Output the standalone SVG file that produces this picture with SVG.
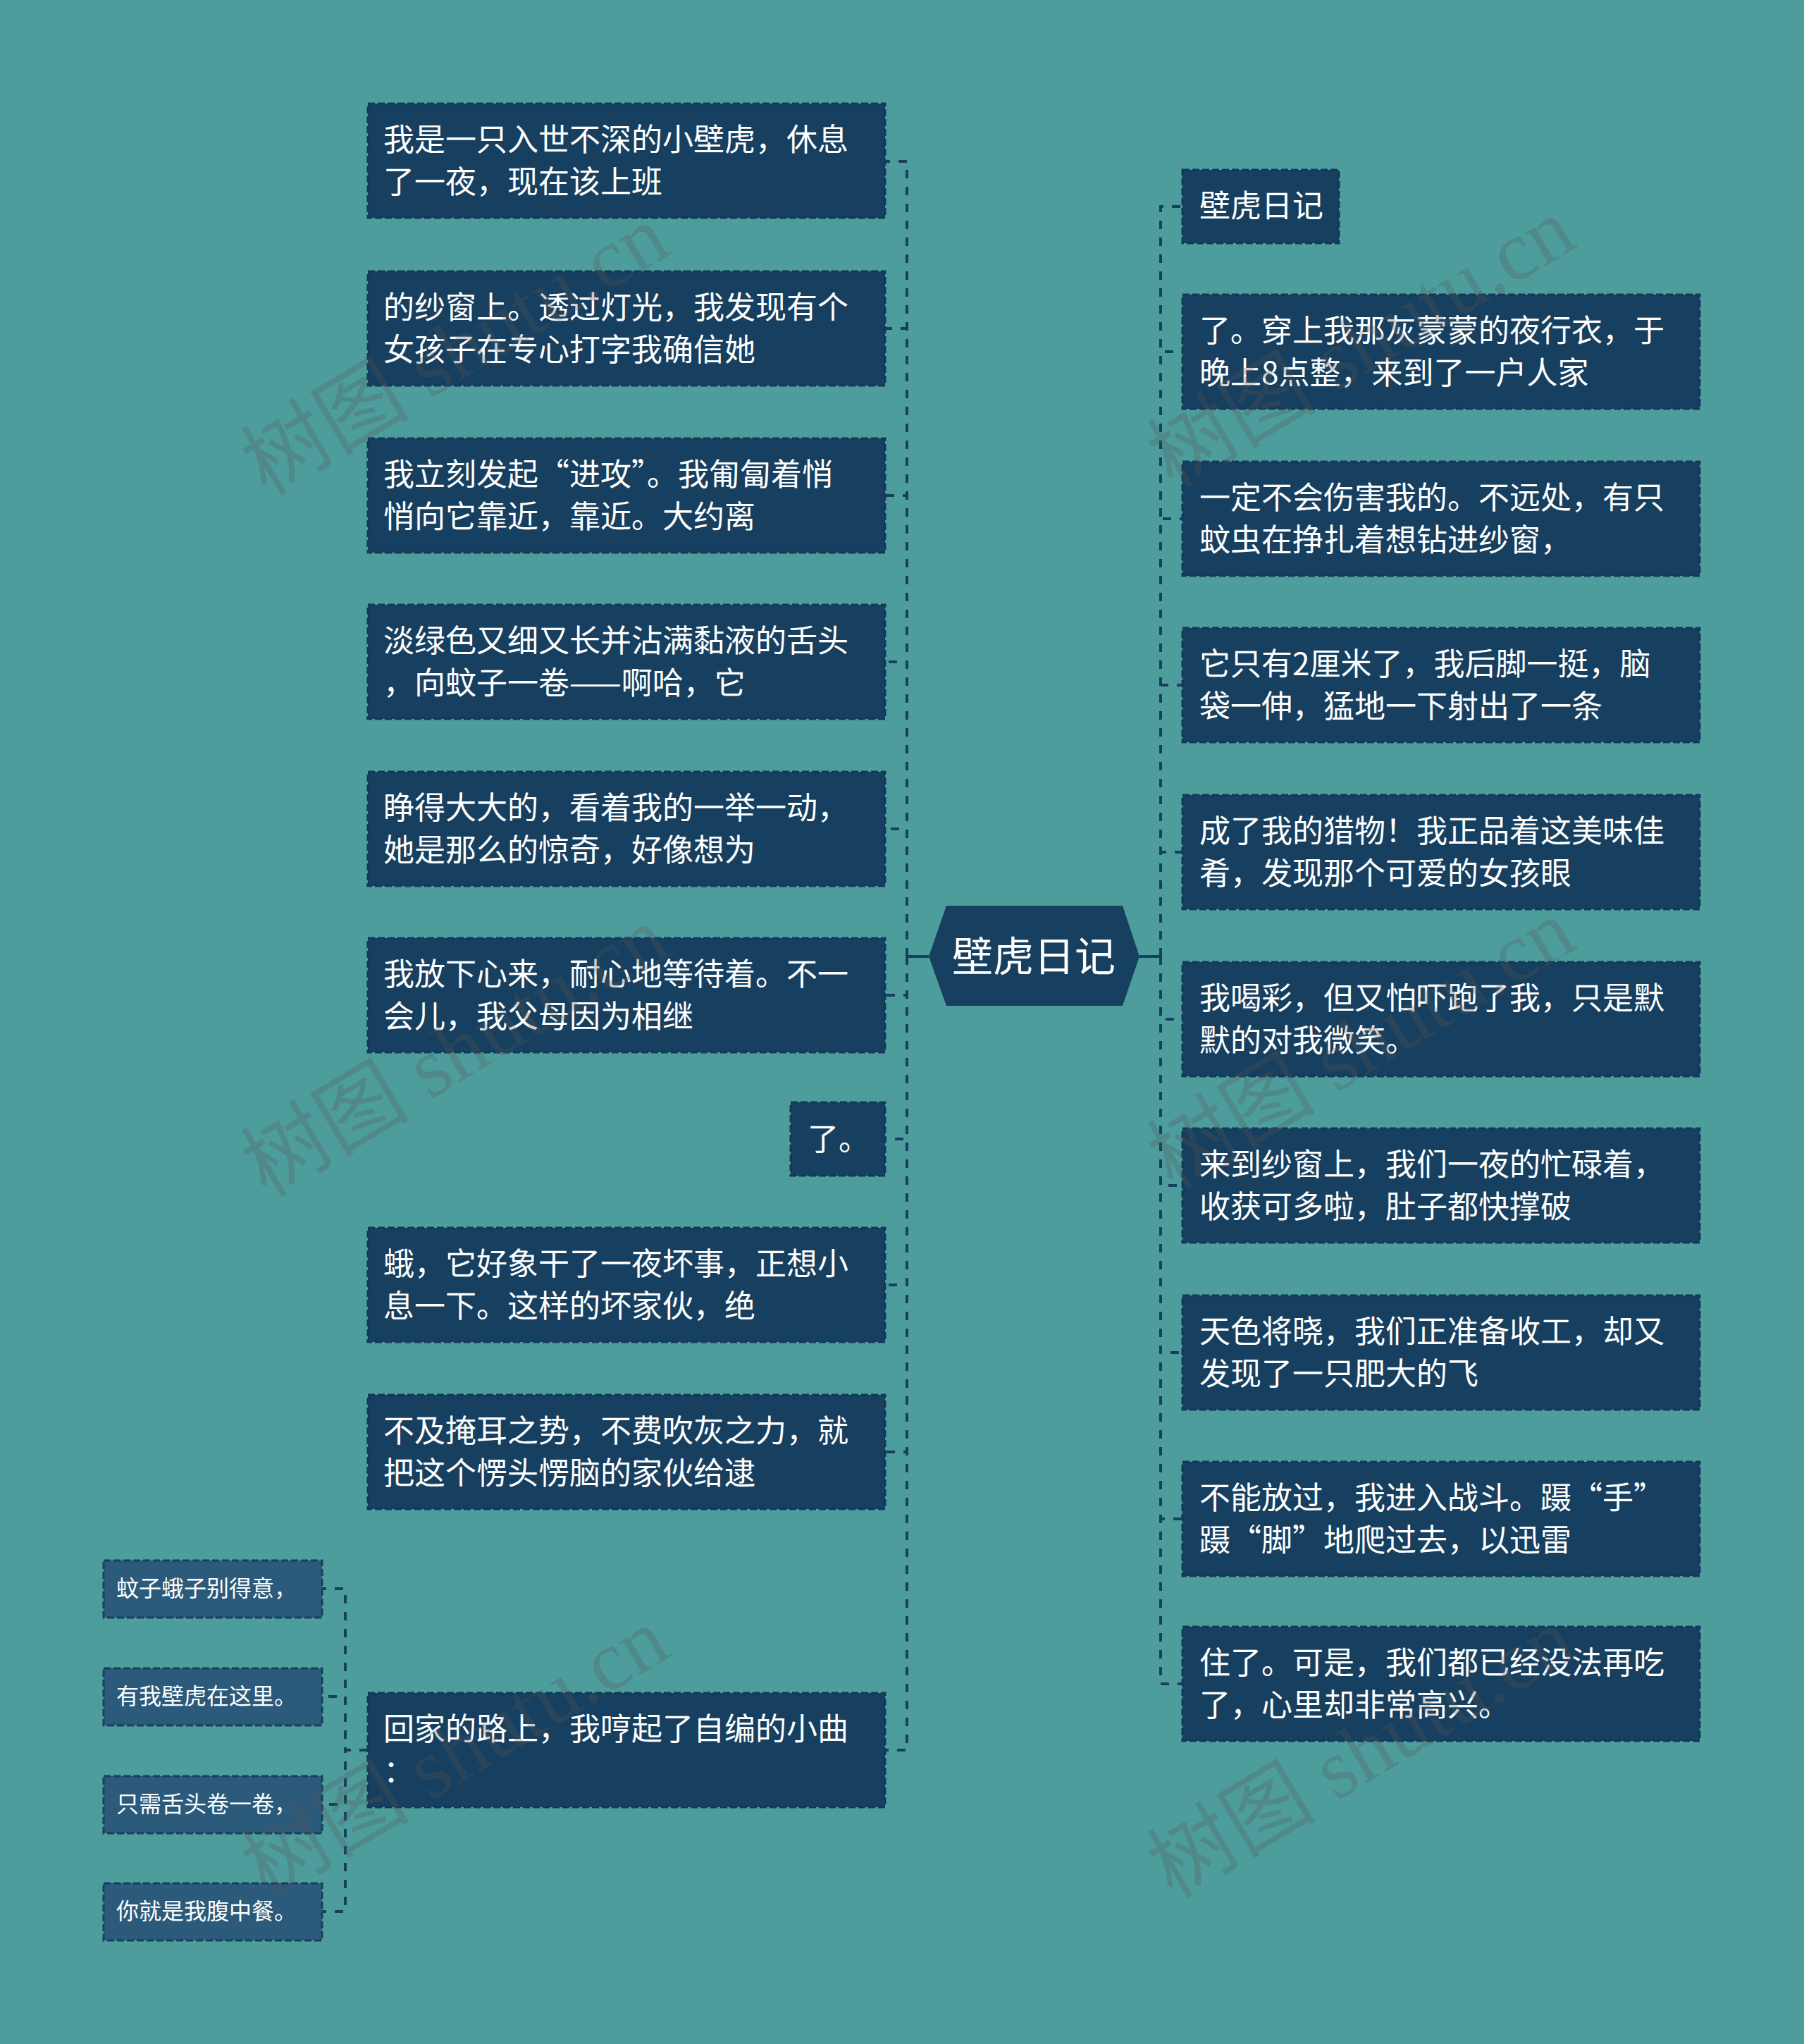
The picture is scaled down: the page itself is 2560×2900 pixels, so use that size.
<svg xmlns="http://www.w3.org/2000/svg" width="2560" height="2900" viewBox="0 0 2560 2900">
<defs>
<style>
.bg{fill:#4E9D9D}
.box{fill:#173F5F;stroke:#12385A;stroke-width:3;stroke-dasharray:10 4}
.leaf{fill:#2C5A7B;stroke:#173F5F;stroke-width:3;stroke-dasharray:10 4}
.t{font-family:"Noto Sans CJK SC","Noto Sans",sans-serif;font-size:44px;fill:#FFFFFF}
.lt{font-family:"Noto Sans CJK SC","Noto Sans",sans-serif;font-size:32px;fill:#FFFFFF}
.ct{font-family:"Noto Sans CJK SC","Noto Sans",sans-serif;font-size:58px;fill:#FFFFFF;text-anchor:middle}
.solid{fill:none;stroke:#173F5F;stroke-width:4}
.dash{fill:none;stroke:#173F5F;stroke-width:4;stroke-dasharray:12 12}
.wm{font-family:"Liberation Serif","Noto Sans CJK SC",serif;font-size:120px;fill:#555555;fill-opacity:0.28}
</style>
</defs>
<rect class="bg" x="0" y="0" width="2560" height="2900"/>

<g id="connectors">
  <path class="solid" d="M1318 1357H1287"/>
  <path class="solid" d="M1617 1357H1647"/>
  <path class="dash" d="M1287 1357V229H1256"/>
  <path class="dash" d="M1287 1357V466H1256"/>
  <path class="dash" d="M1287 1357V703H1256"/>
  <path class="dash" d="M1287 1357V939H1256"/>
  <path class="dash" d="M1287 1357V1176H1256"/>
  <path class="dash" d="M1287 1357V1412H1256"/>
  <path class="dash" d="M1287 1357V1616H1256"/>
  <path class="dash" d="M1287 1357V1823H1256"/>
  <path class="dash" d="M1287 1357V2060H1256"/>
  <path class="dash" d="M1287 1357V2483H1256"/>
  <path class="dash" d="M1647 1357V293H1678"/>
  <path class="dash" d="M1647 1357V499H1678"/>
  <path class="dash" d="M1647 1357V736H1678"/>
  <path class="dash" d="M1647 1357V972H1678"/>
  <path class="dash" d="M1647 1357V1209H1678"/>
  <path class="dash" d="M1647 1357V1446H1678"/>
  <path class="dash" d="M1647 1357V1682H1678"/>
  <path class="dash" d="M1647 1357V1919H1678"/>
  <path class="dash" d="M1647 1357V2155H1678"/>
  <path class="dash" d="M1647 1357V2389H1678"/>
  <path class="dash" d="M522 2483H490V2254H457"/>
  <path class="dash" d="M522 2483H490V2407H457"/>
  <path class="dash" d="M522 2483H490V2560H457"/>
  <path class="dash" d="M522 2483H490V2712H457"/>
</g>

<g id="center">
  <polygon points="1318,1357 1343,1285 1593,1285 1617,1357 1593,1427 1343,1427" fill="#173F5F"/>
  <text class="ct" x="1467" y="1378">壁虎日记</text>
</g>

<g id="L1"><rect class="box" x="522" y="147" width="734" height="162"/><text class="t" x="544" y="214">我是一只入世不深的小壁虎，休息</text><text class="t" x="544" y="274">了一夜，现在该上班</text></g>
<g id="L2"><rect class="box" x="522" y="385" width="734" height="162"/><text class="t" x="544" y="452">的纱窗上。透过灯光，我发现有个</text><text class="t" x="544" y="512">女孩子在专心打字我确信她</text></g>
<g id="L3"><rect class="box" x="522" y="622" width="734" height="162"/><text class="t" x="544" y="689">我立刻发起“进攻”。我匍匐着悄</text><text class="t" x="544" y="749">悄向它靠近，靠近。大约离</text></g>
<g id="L4"><rect class="box" x="522" y="858" width="734" height="162"/><text class="t" x="544" y="925">淡绿色又细又长并沾满黏液的舌头</text><text class="t" x="544" y="985">，向蚊子一卷——啊哈，它</text></g>
<g id="L5"><rect class="box" x="522" y="1095" width="734" height="162"/><text class="t" x="544" y="1162">睁得大大的，看着我的一举一动，</text><text class="t" x="544" y="1222">她是那么的惊奇，好像想为</text></g>
<g id="L6"><rect class="box" x="522" y="1331" width="734" height="162"/><text class="t" x="544" y="1398">我放下心来，耐心地等待着。不一</text><text class="t" x="544" y="1458">会儿，我父母因为相继</text></g>
<g id="L7"><rect class="box" x="1122" y="1564" width="134" height="104"/><text class="t" x="1146" y="1632">了。</text></g>
<g id="L8"><rect class="box" x="522" y="1742" width="734" height="162"/><text class="t" x="544" y="1809">蛾，它好象干了一夜坏事，正想小</text><text class="t" x="544" y="1869">息一下。这样的坏家伙，绝</text></g>
<g id="L9"><rect class="box" x="522" y="1979" width="734" height="162"/><text class="t" x="544" y="2046">不及掩耳之势，不费吹灰之力，就</text><text class="t" x="544" y="2106">把这个愣头愣脑的家伙给逮</text></g>
<g id="L10"><rect class="box" x="522" y="2402" width="734" height="162"/><text class="t" x="544" y="2469">回家的路上，我哼起了自编的小曲</text><text class="t" x="544" y="2529">：</text></g>

<g id="S1"><rect class="leaf" x="147" y="2214" width="310" height="81"/><text class="lt" x="165" y="2265">蚊子蛾子别得意，</text></g>
<g id="S2"><rect class="leaf" x="147" y="2367" width="310" height="81"/><text class="lt" x="165" y="2418">有我壁虎在这里。</text></g>
<g id="S3"><rect class="leaf" x="147" y="2520" width="310" height="81"/><text class="lt" x="165" y="2571">只需舌头卷一卷，</text></g>
<g id="S4"><rect class="leaf" x="147" y="2672" width="310" height="81"/><text class="lt" x="165" y="2723">你就是我腹中餐。</text></g>

<g id="R1"><rect class="box" x="1678" y="241" width="222" height="104"/><text class="t" x="1702" y="308">壁虎日记</text></g>
<g id="R2"><rect class="box" x="1678" y="418" width="734" height="162"/><text class="t" x="1702" y="485">了。穿上我那灰蒙蒙的夜行衣，于</text><text class="t" x="1702" y="545">晚上8点整，来到了一户人家</text></g>
<g id="R3"><rect class="box" x="1678" y="655" width="734" height="162"/><text class="t" x="1702" y="722">一定不会伤害我的。不远处，有只</text><text class="t" x="1702" y="782">蚊虫在挣扎着想钻进纱窗，</text></g>
<g id="R4"><rect class="box" x="1678" y="891" width="734" height="162"/><text class="t" x="1702" y="958">它只有2厘米了，我后脚一挺，脑</text><text class="t" x="1702" y="1018">袋一伸，猛地一下射出了一条</text></g>
<g id="R5"><rect class="box" x="1678" y="1128" width="734" height="162"/><text class="t" x="1702" y="1195">成了我的猎物！我正品着这美味佳</text><text class="t" x="1702" y="1255">肴，发现那个可爱的女孩眼</text></g>
<g id="R6"><rect class="box" x="1678" y="1365" width="734" height="162"/><text class="t" x="1702" y="1432">我喝彩，但又怕吓跑了我，只是默</text><text class="t" x="1702" y="1492">默的对我微笑。</text></g>
<g id="R7"><rect class="box" x="1678" y="1601" width="734" height="162"/><text class="t" x="1702" y="1668">来到纱窗上，我们一夜的忙碌着，</text><text class="t" x="1702" y="1728">收获可多啦，肚子都快撑破</text></g>
<g id="R8"><rect class="box" x="1678" y="1838" width="734" height="162"/><text class="t" x="1702" y="1905">天色将晓，我们正准备收工，却又</text><text class="t" x="1702" y="1965">发现了一只肥大的飞</text></g>
<g id="R9"><rect class="box" x="1678" y="2074" width="734" height="162"/><text class="t" x="1702" y="2141">不能放过，我进入战斗。蹑“手”</text><text class="t" x="1702" y="2201">蹑“脚”地爬过去，以迅雷</text></g>
<g id="R10"><rect class="box" x="1678" y="2308" width="734" height="162"/><text class="t" x="1702" y="2375">住了。可是，我们都已经没法再吃</text><text class="t" x="1702" y="2435">了，心里却非常高兴。</text></g>

<g id="watermarks">
  <text class="wm" transform="translate(378 705) rotate(-31)">树图 shutu.cn</text>
  <text class="wm" transform="translate(1664 695) rotate(-31)">树图 shutu.cn</text>
  <text class="wm" transform="translate(378 1700) rotate(-31)">树图 shutu.cn</text>
  <text class="wm" transform="translate(1664 1690) rotate(-31)">树图 shutu.cn</text>
  <text class="wm" transform="translate(378 2695) rotate(-31)">树图 shutu.cn</text>
  <text class="wm" transform="translate(1664 2695) rotate(-31)">树图 shutu.cn</text>
</g>
</svg>
